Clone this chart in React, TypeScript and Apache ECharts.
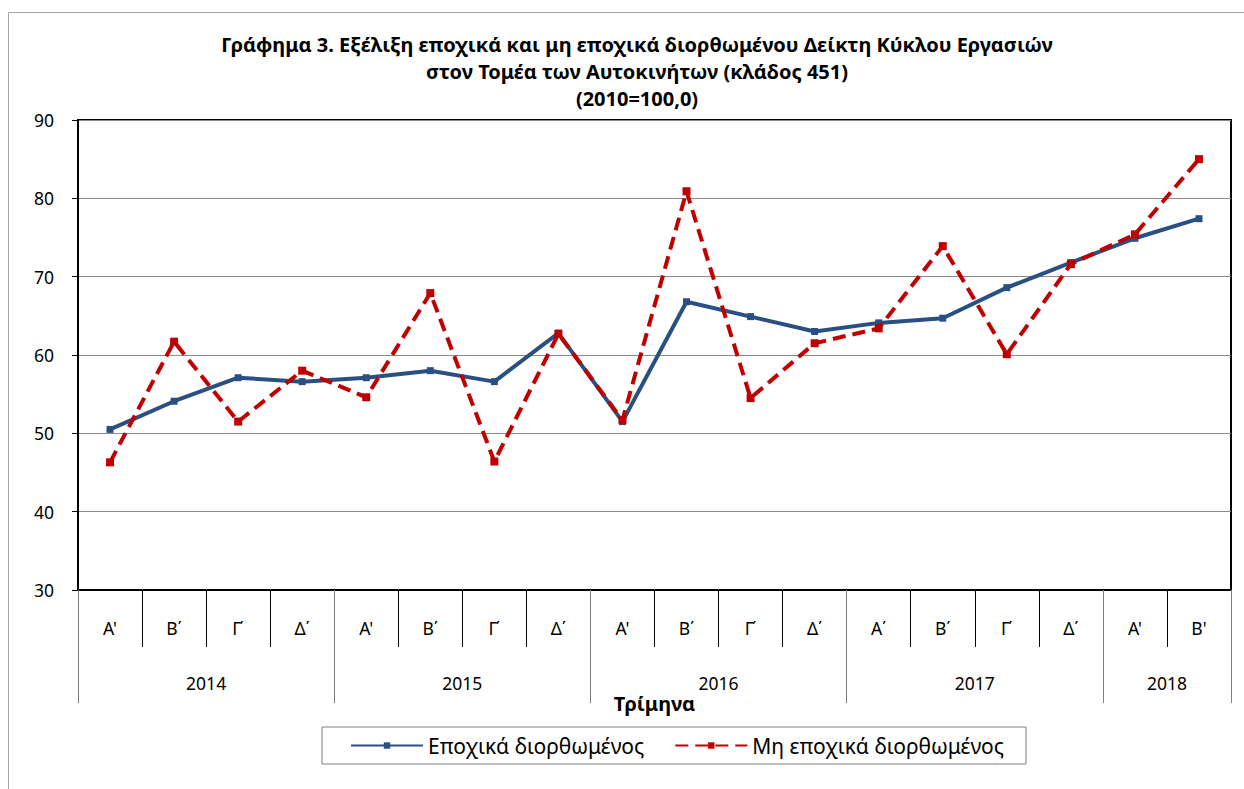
import React, { useEffect, useRef } from "react";
import * as echarts from "echarts";

const quarters = [
  "Α'", "Β΄", "Γ΄", "Δ΄",
  "Α'", "Β΄", "Γ΄", "Δ΄",
  "Α'", "Β΄", "Γ΄", "Δ΄",
  "Α΄", "Β΄", "Γ΄", "Δ΄",
  "Α'", "Β'",
];
const years = ["2014", "2015", "2016", "2017", "2018"];
const yearBoundaries = [0, 4, 8, 12, 16, 18];
const yearCenters = [2, 6, 10, 14, 17];

const seasonallyAdjusted = [
  50.5, 54.1, 57.1, 56.6, 57.1, 58.0, 56.6, 62.8,
  51.5, 66.8, 64.9, 63.0, 64.1, 64.7, 68.6, 71.8,
  74.9, 77.4,
];
const nonSeasonallyAdjusted = [
  46.3, 61.7, 51.5, 58.0, 54.6, 67.9, 46.4, 62.7,
  51.7, 80.9, 54.5, 61.5, 63.4, 73.9, 60.1, 71.6,
  75.4, 85.0,
];

const seriesNames = ["Εποχικά διορθωμένος", "Μη εποχικά διορθωμένος"];
const titleText =
  "Γράφημα 3. Εξέλιξη εποχικά και μη εποχικά διορθωμένου Δείκτη Κύκλου Εργασιών\nστον Τομέα των Αυτοκινήτων (κλάδος 451)\n(2010=100,0)";

const FONT = "'Noto Sans', sans-serif";

export default function App() {
  const ref = useRef<HTMLDivElement>(null);
  useEffect(() => {
    if (!ref.current) return;
    const chart = echarts.init(ref.current, null, { renderer: "svg" });
    chart.setOption({
      animation: false,
      backgroundColor: "#fff",
      textStyle: { fontFamily: FONT },
      graphic: [
        {
          type: "rect",
          shape: { x: 8.5, y: 12.5, width: 1400, height: 1000 },
          style: { fill: "none", stroke: "#a6a6a6", lineWidth: 1 },
          silent: true,
        },
      ],
      title: {
        text: titleText,
        left: 632,
        top: 26,
        textAlign: "center",
        textStyle: {
          fontFamily: FONT,
          fontWeight: "bold",
          fontSize: 20,
          lineHeight: 27,
          color: "#000",
        },
      },
      legend: {
        left: 322,
        top: 727,
        padding: [8, 22, 8, 28],
        borderColor: "#7f7f7f",
        borderWidth: 1,
        itemWidth: 72,
        itemHeight: 8,
        itemGap: 30,
        textStyle: { fontFamily: FONT, fontSize: 21, color: "#000" },
        data: seriesNames,
      },
      grid: { left: 78, right: 13, top: 120, bottom: 199, show: true, borderColor: "#000", borderWidth: 2 },
      xAxis: [
        {
          type: "category",
          data: quarters,
          boundaryGap: true,
          position: "bottom",
          axisLine: { show: true, lineStyle: { color: "#000", width: 2 } },
          axisTick: { show: true, length: 57, lineStyle: { color: "#000", width: 1 } },
          axisLabel: { margin: 29, fontFamily: FONT, fontSize: 17.5, color: "#000" },
          splitLine: { show: false },
          name: "Τρίμηνα",
          nameLocation: "middle",
          nameGap: 103,
          nameTextStyle: { fontFamily: FONT, fontWeight: "bold", fontSize: 20, color: "#000" },
        },
        {
          type: "value",
          min: 0,
          max: 18,
          position: "bottom",
          axisLine: { show: false },
          axisTick: {
            show: true,
            length: 113,
            customValues: yearBoundaries,
            lineStyle: { color: "#7f7f7f", width: 1 },
          },
          axisLabel: {
            show: true,
            customValues: yearCenters,
            margin: 84,
            fontFamily: FONT,
            fontSize: 17.5,
            color: "#000",
            formatter: (v: number) => years[yearCenters.indexOf(v)] ?? "",
          },
          splitLine: { show: false },
        },
      ],
      yAxis: {
        type: "value",
        min: 30,
        max: 90,
        interval: 10,
        axisLine: { show: true, lineStyle: { color: "#000", width: 2 } },
        axisTick: { show: true, length: 6, lineStyle: { color: "#000" } },
        axisLabel: { margin: 24, fontFamily: FONT, fontSize: 17.5, color: "#000" },
        splitLine: { show: true, lineStyle: { color: "#8c8c8c", width: 1 } },
      },
      series: [
        {
          name: seriesNames[0],
          type: "line",
          xAxisIndex: 0,
          data: seasonallyAdjusted,
          symbol: "rect",
          symbolSize: 7,
          color: "#2A5083",
          lineStyle: { width: 4, color: "#2A5083" },
          itemStyle: { color: "#2A5083" },
          z: 2,
        },
        {
          name: seriesNames[1],
          type: "line",
          xAxisIndex: 0,
          data: nonSeasonallyAdjusted,
          symbol: "rect",
          symbolSize: 8,
          color: "#C00000",
          lineStyle: { width: 4, color: "#C00000", type: [13, 7] },
          itemStyle: { color: "#C00000" },
          z: 3,
        },
      ],
    });
    return () => chart.dispose();
  }, []);
  return (
    <div
      ref={ref}
      style={{ position: "fixed", left: 0, top: 0, width: 1244, height: 789 }}
    />
  );
}
